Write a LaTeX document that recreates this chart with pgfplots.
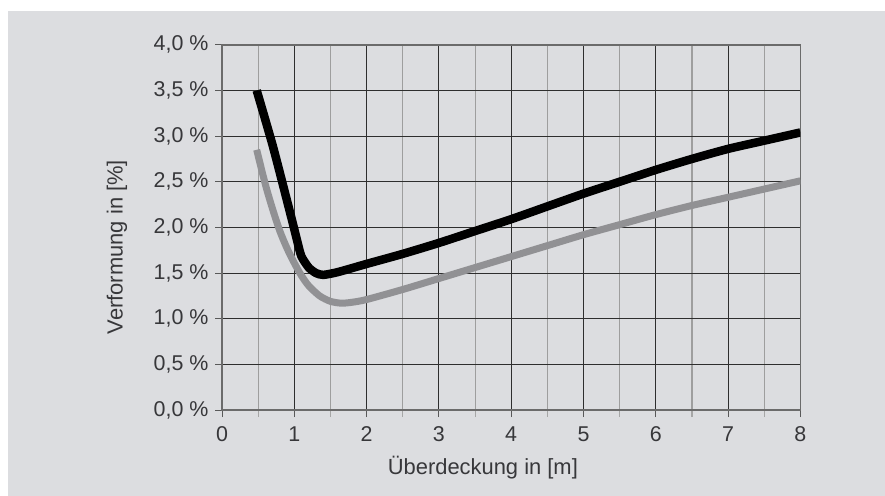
\documentclass[border=0pt]{standalone}
\usepackage{pgfplots}
\pgfplotsset{compat=1.18}
\usepackage{fontspec}
\setmainfont{Liberation Sans}

\definecolor{bg}{RGB}{220,221,224}
\definecolor{txt}{RGB}{55,55,58}
\definecolor{curvegray}{RGB}{145,145,148}

\begin{document}
\begin{tikzpicture}
\path[use as bounding box] (0bp,0bp) rectangle (885bp,496bp);
\fill[white] (0bp,0bp) rectangle (885bp,496bp);
\fill[bg] (8bp,0bp) rectangle (885bp,485bp);
\begin{axis}[
    at={(222bp,86bp)}, anchor=south west,
    scale only axis,
    width=578.4bp, height=365.2bp,
    xmin=0, xmax=8,
    ymin=0, ymax=4,
    xtick={0,1,...,8},
    minor xtick={0.5,1.5,...,7.5},
    ytick={0,0.5,...,4},
    xticklabels={0,1,2,3,4,5,6,7,8},
    yticklabels={{0,0 \%},{0,5 \%},{1,0 \%},{1,5 \%},{2,0 \%},{2,5 \%},{3,0 \%},{3,5 \%},{4,0 \%}},
    grid=both,
    major grid style={black!82, line width=0.9bp},
    minor grid style={black!38, line width=1.1bp},
    axis line style={black!58, line width=1.6bp},
    tick pos=left,
    tick align=outside,
    major tick length=7bp,
    minor tick length=7bp,
    major tick style={black!65, line width=1bp},
    minor tick style={black!35, line width=1.1bp},
    tick label style={font=\fontsize{21.5}{25}\selectfont, text=txt},
    xticklabel style={yshift=-6bp},
    yticklabel style={xshift=-3bp},
    xlabel={Überdeckung in [m]},
    ylabel={Verformung in [\%]},
    every axis x label/.style={at={(axis description cs:0.451,0)}, anchor=base,
        yshift=-64bp, font=\fontsize{22}{26}\selectfont, text=txt},
    every axis y label/.style={at={([xshift=-105bp]axis description cs:0,0.446)},
        rotate=90, anchor=center, font=\fontsize{22}{26}\selectfont, text=txt},
]
\addplot[curvegray, line width=7bp, smooth, tension=0.45, line join=round] coordinates {
(0.48,2.85) (0.6,2.47) (0.7,2.20) (0.8,1.96) (0.9,1.77) (1.0,1.61) (1.1,1.47)
(1.2,1.36) (1.35,1.25) (1.5,1.19) (1.65,1.17) (1.8,1.18) (2.0,1.21) (2.5,1.32)
(3.0,1.44) (3.5,1.56) (4.0,1.68) (4.5,1.80) (5.0,1.92) (5.5,2.03) (6.0,2.14)
(6.5,2.24) (7.0,2.33) (7.5,2.42) (8.0,2.51)
};
\addplot[black, line width=8.5bp, smooth, tension=0.4, line join=round] coordinates {
(0.48,3.50) (0.7,2.90) (0.9,2.29) (1.0,1.98) (1.05,1.82) (1.1,1.68) (1.2,1.56)
(1.3,1.50) (1.4,1.48) (1.6,1.51) (2.0,1.60) (2.5,1.71) (3.0,1.83) (3.5,1.96)
(4.0,2.09) (4.5,2.23) (5.0,2.37) (5.5,2.50) (6.0,2.63) (6.5,2.75) (7.0,2.86)
(7.5,2.95) (8.0,3.04)
};
\end{axis}
\end{tikzpicture}
\end{document}
